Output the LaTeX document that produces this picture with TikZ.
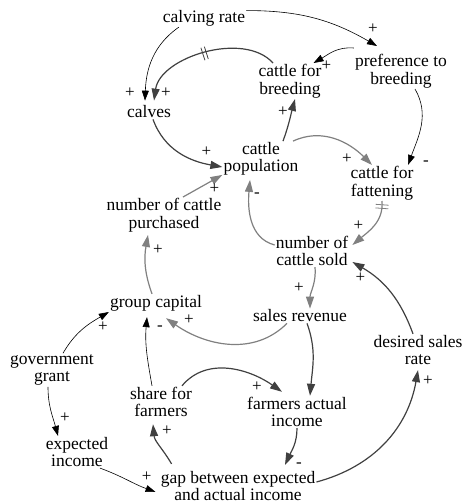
\documentclass[tikz,border=0pt]{standalone}
\usepackage{fontspec}
\setmainfont{Liberation Serif}
\newfontfamily\diagfamily{Liberation Serif}
\usetikzlibrary{arrows.meta,decorations.markings}
\definecolor{LinkDark}{HTML}{404040}
\definecolor{LinkGray}{HTML}{808080}
\newcommand{\varfont}{\diagfamily\fontsize{17.5}{17.5}\selectfont}
\tikzset{
  var/.style={align=center,inner sep=1pt,font=\varfont},
  link/.style={-{Triangle[length=10pt,width=7pt]},line width=0.6pt,draw=black},
  darklink/.style={-{Triangle[length=12pt,width=8pt]},line width=1.2pt,draw=LinkDark},
  graylink/.style={-{Triangle[length=12pt,width=8pt]},line width=1.2pt,draw=LinkGray},
  pol/.style={font=\diagfamily\fontsize{17}{17}\selectfont,inner sep=0pt,pos=1},
  delaymark/.style={postaction={decorate,decoration={markings,
    mark=at position #1 with {\draw[line width=0.8pt,-] (-1.8pt,-6.5pt) -- (-1.8pt,6.5pt) (1.8pt,-6.5pt) -- (1.8pt,6.5pt);}}}}
}

\begin{document}
\begin{tikzpicture}[x=1pt,y=1pt]
  \useasboundingbox (0,0) rectangle (462,-503);

  % variables
  \node[var] (rate)    at (204,-18)  {calving rate};
  \node[var] (pref)    at (401,-71)  {preference to\\breeding};
  \node[var] (breed)   at (290,-81)  {cattle for\\breeding};
  \node[var] (calves)  at (149,-112) {calves};
  \node[var] (pop)     at (261,-159) {cattle\\population};
  \node[var] (fatten)  at (382,-183) {cattle for\\fattening};
  \node[var] (purch)   at (164,-215) {number of cattle\\purchased};
  \node[var] (sold)    at (312,-251) {number of\\cattle sold};
  \node[var] (capital) at (156,-303) {group capital};
  \node[var] (revenue) at (300,-316) {sales revenue};
  \node[var] (desired) at (418,-350) {desired sales\\rate};
  \node[var] (grant)   at (52,-370)  {government\\grant};
  \node[var] (share)   at (161,-402) {share for\\farmers};
  \node[var] (actual)  at (297,-412) {farmers actual\\income};
  \node[var] (expect)  at (77,-452)  {expected\\income};
  \node[var] (gap)     at (238,-486) {gap between expected\\and actual income};

  % herd links
  \draw[link] (rate.200) to[out=215,in=88] node[pol,shift={(-15,8)}]{+} ([xshift=-4pt,yshift=4pt]calves.north);
  \draw[darklink,delaymark=.5] ([xshift=-17pt]breed.north) to[out=132,in=82,looseness=.9] node[pol,shift={(12,8)}]{+} ([xshift=5pt,yshift=4pt]calves.north);
  \draw[link] (rate.10) to[out=0,in=150] node[pol,shift={(-4,17)}]{+} ([xshift=-24pt,yshift=7pt]pref.north);
  \draw[link] ([yshift=5pt]pref.north west) to[out=175,in=30] node[pol,shift={(13,-3)}]{+} ([xshift=-9pt]breed.north east);
  \draw[link] ([xshift=14pt]pref.south) to[out=-60,in=70] node[pol,shift={(18,2)}]{-} ([xshift=26pt]fatten.north);
  \draw[darklink] ([xshift=4pt]calves.south) to[out=-70,in=170] node[pol,shift={(-16,15)}]{+} ([yshift=-8pt]pop.west);
  \draw[darklink] ([xshift=22pt]pop.north) to[out=70,in=-105] node[pol,shift={(-12,-13)}]{+} ([xshift=5pt]breed.south);
  \draw[graylink] ([xshift=32pt]pop.north) to[out=25,in=135] node[pol,shift={(-25,6)}]{+} ([xshift=-10pt]fatten.north);
  \draw[graylink,delaymark=.1] (fatten.south) to[out=-85,in=40] node[pol,shift={(6,19)}]{+} ([xshift=3pt,yshift=6pt]sold.east);
  \draw[graylink] ([yshift=6pt]sold.west) to[out=165,in=-95] node[pol,shift={(7,-15)}]{-} ([xshift=-11pt,yshift=-3pt]pop.south);
  \draw[graylink] ([xshift=19pt]purch.north) -- node[pol,shift={(-8,-14)}]{+} ([yshift=2pt]pop.south west);

  % money links
  \draw[graylink] ([xshift=-4pt]capital.north) to[out=110,in=-100] node[pol,shift={(10,-15)}]{+} ([xshift=-16pt,yshift=-2pt]purch.south);
  \draw[graylink] ([xshift=3pt]sold.south) to[out=-85,in=90] node[pol,shift={(-11,21)}]{+} ([xshift=10pt]revenue.north);
  \draw[graylink] ([xshift=-13pt]revenue.south) to[out=-135,in=-35] node[pol,shift={(23,-2)}]{+} ([xshift=10pt,yshift=-6pt]capital.south);
  \draw[darklink] ([xshift=7pt]revenue.south) to[out=-70,in=85] ([xshift=13pt]actual.north);
  \draw[darklink] ([xshift=21pt]share.north) to[out=50,in=145] node[pol,shift={(-25,5)}]{+} ([xshift=-15pt,yshift=4pt]actual.north);
  \draw[darklink] (actual.south) to[out=-90,in=65] node[pol,shift={(14,0)}]{-} ([xshift=47pt,yshift=5pt]gap.north);
  \draw[darklink] ([xshift=12pt,yshift=6pt]gap.north west) to[out=120,in=-85] node[pol,shift={(14,-6)}]{+} ([xshift=-8pt,yshift=-6pt]share.south);
  \draw[darklink] ([yshift=4pt]gap.east) to[out=15,in=-100] node[pol,shift={(10,-11)}]{+} ([yshift=-4pt]desired.south);
  \draw[darklink] ([xshift=-5pt]desired.north) to[out=110,in=-30] node[pol,shift={(8,-16)}]{+} ([xshift=3pt,yshift=-11pt]sold.east);
  \draw[link] ([xshift=-9pt]share.north) to[out=100,in=-95] node[pol,shift={(13,-11)}]{-} ([xshift=-9pt,yshift=-5pt]capital.south);
  \draw[link] ([xshift=11pt]grant.north) to[out=60,in=-150] node[pol,shift={(-6,-15)}]{+} ([yshift=-9pt]capital.west);
  \draw[link] ([xshift=-4pt]grant.south) to[out=-90,in=105] node[pol,shift={(7,18)}]{+} ([xshift=-19pt]expect.north);
  \draw[link] ([xshift=23pt]expect.south) to[out=-20,in=160] node[pol,shift={(-9,15)}]{+} ([xshift=-4pt,yshift=-6pt]gap.west);
\end{tikzpicture}
\end{document}
